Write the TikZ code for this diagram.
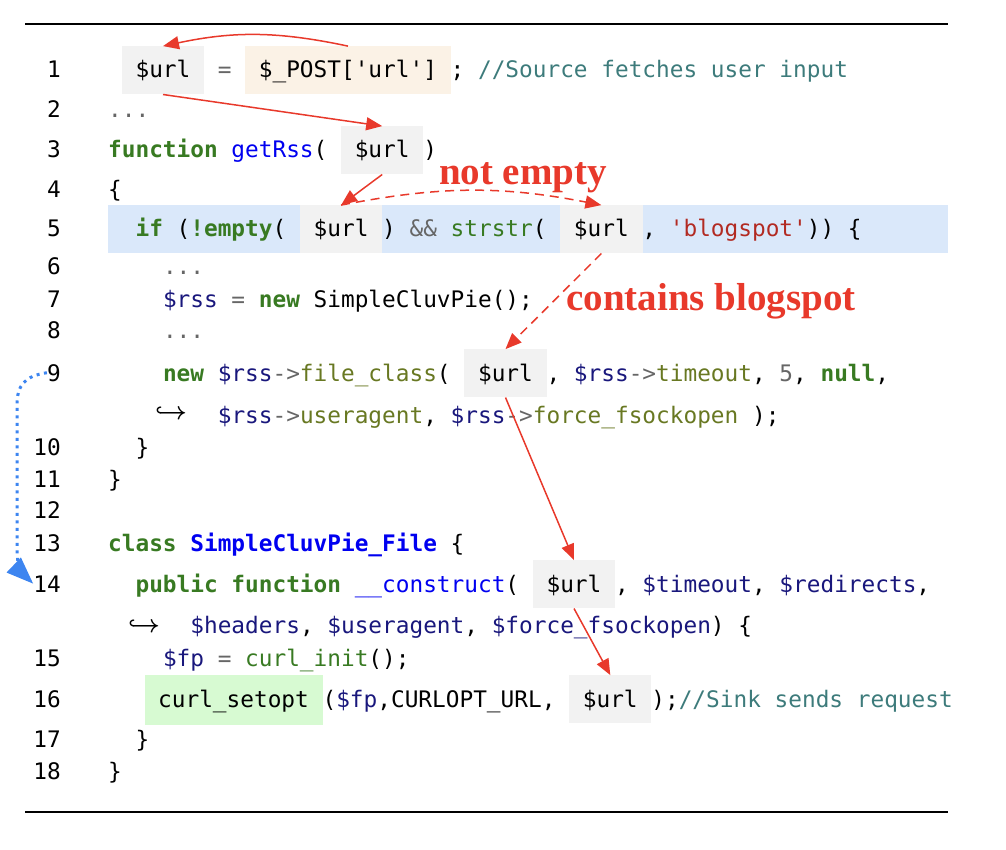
\documentclass[tikz,border=0pt]{standalone}
\usepackage{fontspec}
\usetikzlibrary{arrows.meta}
\newfontfamily\codefont{DejaVu Sans Mono}
\newfontfamily\lblfont{Liberation Serif}
\definecolor{kwc}{HTML}{387A22}
\definecolor{fnc}{HTML}{0000F0}
\definecolor{varc}{HTML}{19177C}
\definecolor{opc}{HTML}{666666}
\definecolor{strc}{HTML}{B22A22}
\definecolor{cmc}{HTML}{3D7B7B}
\definecolor{atc}{HTML}{687822}
\definecolor{boxgray}{HTML}{F2F2F2}
\definecolor{boxbeige}{HTML}{FBF2E6}
\definecolor{bandblue}{HTML}{DAE8FA}
\definecolor{boxgreen}{HTML}{D7FAD2}
\definecolor{flowred}{HTML}{E8392B}
\definecolor{flowblue}{HTML}{3D85F0}
\newcommand\Ckw[1]{\textcolor{kwc}{\bfseries #1}}
\newcommand\Cfn[1]{\textcolor{fnc}{#1}}
\newcommand\Ccls[1]{\textcolor{fnc}{\bfseries #1}}
\newcommand\Cvar[1]{\textcolor{varc}{#1}}
\newcommand\Cop[1]{\textcolor{opc}{#1}}
\newcommand\Cbi[1]{\textcolor{kwc}{#1}}
\newcommand\Cstr[1]{\textcolor{strc}{#1}}
\newcommand\Ccm[1]{\textcolor{cmc}{#1}}
\newcommand\Cat[1]{\textcolor{atc}{#1}}
\begin{document}
\begin{tikzpicture}[x=1pt,y=1pt,
  code/.style={anchor=base west, inner sep=0pt, font=\codefont\fontsize{22.755}{27}\selectfont},
  lnum/.style={anchor=base east, inner sep=0pt, font=\codefont\fontsize{22.755}{27}\selectfont},
  hook/.style={anchor=west, inner sep=0pt, font=\fontsize{29}{29}\selectfont\boldmath},
  hl/.style={anchor=south west, inner sep=0pt, minimum height=48pt, minimum width=82.2pt, fill=boxgray},
  flow/.style={draw=flowred, line width=1.5pt, -{Triangle[length=16pt,width=13pt]}},
  guard/.style={flow, dash pattern=on 9pt off 6pt},
  lbl/.style={text=flowred, inner sep=0pt, font=\lblfont\bfseries\fontsize{39}{39}\selectfont},
  dotflow/.style={draw=flowblue, line width=3pt, dash pattern=on 3pt off 4.5pt, -{Triangle[length=27pt,width=20pt]}}
]
\useasboundingbox (0,0) rectangle (1006,-850);
% rules
\draw[line width=1.5pt] (25,-24) -- (948,-24);
\draw[line width=1.5pt] (25,-812) -- (948,-812);
% highlight backgrounds
\node[hl, fill=bandblue, minimum width=840pt] (band5) at (108,-253.5) {};
\node[hl] (u1) at (121.7,-94.5) {};
\node[hl, fill=boxbeige, minimum width=205.5pt] (post) at (245,-94.5) {};
\node[hl] (u3) at (340.9,-174.5) {};
\node[hl] (u5a) at (299.8,-253.5) {};
\node[hl] (u5b) at (560.1,-253.5) {};
\node[hl] (u9) at (464.2,-397.5) {};
\node[hl] (u14) at (532.7,-608.5) {};
\node[hl, fill=boxgreen, minimum width=178.1pt, minimum height=50pt] (sink) at (144.3,-725) {};
\node[hl] (u16) at (569,-723.5) {};
% line numbers
\foreach \n/\b in {1/78,2/118,3/158,4/198,5/237,6/275,7/307,8/338,9/381,10/455,11/487,12/518,13/551,14/592,15/666,16/707,17/747,18/779}
  \node[lnum] (ln\n) at (61,-\b) {\n};
% code lines
\node[code] (l1) at (108,-78) {~~\$url~~\Cop{=}~~\$\_POST['url']~;~\Ccm{//Source fetches user input}};
\node[code] (l2) at (108,-118) {\Cop{...}};
\node[code] (l3) at (108,-158) {\Ckw{function}~\Cfn{getRss}(~~\$url~)};
\node[code] (l4) at (108,-198) {\{};
\node[code] (l5) at (108,-237) {~~\Ckw{if}~(\Ckw{!empty}(~~\$url~)~\Cop{\&\&}~\Cbi{strstr}(~~\$url~,~\Cstr{'blogspot'}))~\{};
\node[code] (l6) at (108,-275) {~~~~\Cop{...}};
\node[code] (l7) at (108,-307) {~~~~\Cvar{\$rss}~\Cop{=}~\Ckw{new}~SimpleCluvPie();};
\node[code] (l8) at (108,-338) {~~~~\Cop{...}};
\node[code] (l9) at (108,-381) {~~~~\Ckw{new}~\Cvar{\$rss}\Cop{->}\Cat{file\_class}(~~\$url~,~\Cvar{\$rss}\Cop{->}\Cat{timeout},~\Cop{5},~\Ckw{null},};
\node[hook] (hk9) at (155,-413) {$\hookrightarrow$};
\node[code] (l9b) at (217.6,-423) {\Cvar{\$rss}\Cop{->}\Cat{useragent},~\Cvar{\$rss}\Cop{->}\Cat{force\_fsockopen}~);};
\node[code] (l10) at (108,-455) {~~\}};
\node[code] (l11) at (108,-487) {\}};
\node[code] (l13) at (108,-551) {\Ckw{class}~\Ccls{SimpleCluvPie\_File}~\{};
\node[code] (l14) at (108,-592) {~~\Ckw{public}~\Ckw{function}~\Cfn{\_\_construct}(~~\$url~,~\Cvar{\$timeout},~\Cvar{\$redirects},};
\node[hook] (hk14) at (128,-626) {$\hookrightarrow$};
\node[code] (l14b) at (190.2,-633) {\Cvar{\$headers},~\Cvar{\$useragent},~\Cvar{\$force\_fsockopen})~\{};
\node[code] (l15) at (108,-666) {~~~~\Cvar{\$fp}~\Cop{=}~\Cbi{curl\_init}();};
\node[code] (l16) at (144.3,-707) {~curl\_setopt~(\Cvar{\$fp},CURLOPT\_URL,~~\$url~);\Ccm{//Sink sends request}};
\node[code] (l17) at (108,-747) {~~\}};
\node[code] (l18) at (108,-779) {\}};
% labels
\node[lbl, anchor=base] (lblne) at (523,-185) {not empty};
\node[lbl, anchor=base west] (lblcb) at (566,-310) {contains blogspot};
% flows
\draw[flow] (post.north) to[bend right=12] (u1.north);
\draw[flow] (u1.south) -- (u3.north);
\draw[flow] (u3.south) -- (u5a.north);
\draw[guard] (u5a.north) to[bend left=11] (u5b.north);
\draw[guard] (u5b.south) -- (u9.north);
\draw[flow] (u9.south) -- (u14.north);
\draw[flow] (u14.south) -- (u16.north);
\draw[dotflow] (ln9.west) .. controls (25,-376) and (17,-385) .. (17,-405) -- (17,-550) .. controls (17,-562) and (21,-572) .. (ln14.west);
\end{tikzpicture}
\end{document}
